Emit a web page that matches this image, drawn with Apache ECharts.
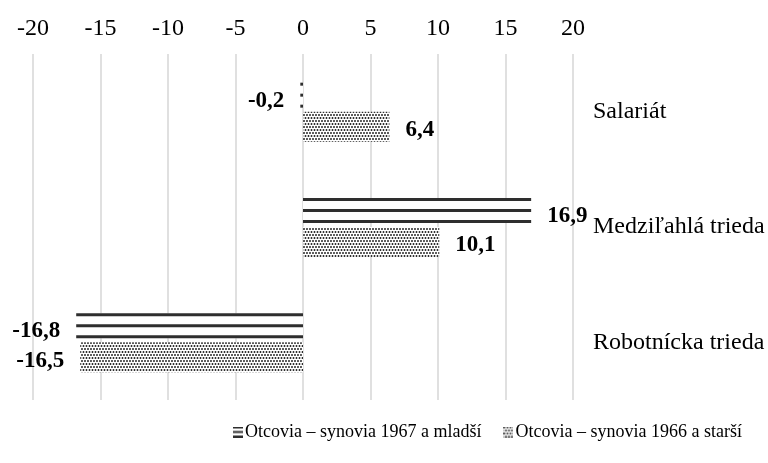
<!DOCTYPE html>
<html>
<head>
<meta charset="utf-8">
<script src="https://cdn.jsdelivr.net/npm/echarts@6/dist/echarts.min.js"></script>
<style>
html,body{margin:0;padding:0;background:#fff;}
#chart{width:768px;height:463px;}
</style>
</head>
<body>
<div id="chart"></div>
<script>
// ---- data ----
const categories = ['Salariát', 'Medziľahlá trieda', 'Robotnícka trieda'];
const seriesNames = ['Otcovia – synovia 1967 a mladší', 'Otcovia – synovia 1966 a starší'];
const youngerValues = [-0.2, 16.9, -16.8];
const olderValues = [6.4, 10.1, -16.5];
const xTicks = { min: -20, max: 20, interval: 5 };

// ---- styles ----
const FONT = "'Liberation Serif', 'Times New Roman', serif";
const LINE_COLOR = '#2e2e2e';

function makeDotCanvas() {
  const c = document.createElement('canvas');
  c.width = 6; c.height = 6;
  const g = c.getContext('2d');
  g.fillStyle = '#ffffff';
  g.fillRect(0, 0, 6, 6);
  g.fillStyle = '#1a1a1a';
  const pts = [[1, 1], [4, 1], [2.5, 4], [5.5, 4], [-0.5, 4]];
  pts.forEach(p => { g.beginPath(); g.arc(p[0], p[1], 0.95, 0, Math.PI * 2); g.fill(); });
  return c;
}
const dotCanvas = makeDotCanvas();

function makeStripeIcon() {
  const c = document.createElement('canvas');
  c.width = 10; c.height = 11;
  const g = c.getContext('2d');
  g.fillStyle = '#fff'; g.fillRect(0, 0, 10, 11);
  g.fillStyle = LINE_COLOR;
  g.fillRect(0, 0, 10, 2); g.fillRect(0, 4.5, 10, 2); g.fillRect(0, 9, 10, 2);
  return c.toDataURL();
}
function makeDotIcon() {
  const c = document.createElement('canvas');
  c.width = 10; c.height = 11;
  const g = c.getContext('2d');
  const pat = g.createPattern(dotCanvas, 'repeat');
  g.fillStyle = pat; g.fillRect(0, 0, 10, 11);
  return c.toDataURL();
}

function fmt(v) { return String(v).replace('.', ','); }

function labelEl(v, xEnd, yMid) {
  return {
    type: 'text',
    style: {
      text: fmt(v),
      x: v >= 0 ? xEnd + 16 : xEnd - 16,
      y: yMid,
      align: v >= 0 ? 'left' : 'right',
      verticalAlign: 'middle',
      fontFamily: FONT,
      fontWeight: 'bold',
      fontSize: 23,
      fill: '#000'
    },
    z2: 10
  };
}

function renderStripes(params, api) {
  const v = api.value(0), ci = api.value(1);
  const p0 = api.coord([0, ci]);
  const p1 = api.coord([v, ci]);
  const c = p0[1];
  const x0 = Math.min(p0[0], p1[0]);
  const w = Math.abs(p1[0] - p0[0]);
  const top = c - 29;
  const children = [
    { type: 'rect', shape: { x: x0, y: top, width: w, height: 25 }, style: { fill: '#fff' } },
    { type: 'rect', shape: { x: x0, y: top, width: w, height: 3 }, style: { fill: LINE_COLOR } },
    { type: 'rect', shape: { x: x0, y: top + 11, width: w, height: 3 }, style: { fill: LINE_COLOR } },
    { type: 'rect', shape: { x: x0, y: top + 22, width: w, height: 3 }, style: { fill: LINE_COLOR } },
    labelEl(v, p1[0], top + 18)
  ];
  return { type: 'group', children };
}

function renderDots(params, api) {
  const v = api.value(0), ci = api.value(1);
  const p0 = api.coord([0, ci]);
  const p1 = api.coord([v, ci]);
  const c = p0[1];
  const x0 = Math.min(p0[0], p1[0]);
  const w = Math.abs(p1[0] - p0[0]);
  return {
    type: 'group',
    children: [
      { type: 'rect', shape: { x: x0, y: c, width: w, height: 30 },
        style: { fill: { image: dotCanvas, repeat: 'repeat' } } },
      labelEl(v, p1[0], c + 18.5)
    ]
  };
}

const chart = echarts.init(document.getElementById('chart'), null, { renderer: 'canvas' });
chart.setOption({
  animation: false,
  backgroundColor: '#fff',
  grid: { left: 33, right: 195, top: 54, bottom: 63, containLabel: false },
  xAxis: {
    type: 'value', position: 'top',
    min: xTicks.min, max: xTicks.max, interval: xTicks.interval,
    axisLine: { show: false }, axisTick: { show: false },
    axisLabel: { margin: 13, fontFamily: FONT, fontSize: 24, color: '#000' },
    splitLine: { show: true, lineStyle: { color: '#d6d6d6', width: 1.5 } }
  },
  yAxis: {
    type: 'category', data: categories, inverse: true, position: 'right',
    axisLine: { show: false }, axisTick: { show: false }, splitLine: { show: false },
    axisLabel: { margin: 20, fontFamily: FONT, fontSize: 24, color: '#000', padding: [5, 0, 0, 0] }
  },
  legend: {
    left: 228, top: 418,
    itemWidth: 10, itemHeight: 11, itemGap: 22,
    textStyle: { fontFamily: FONT, fontSize: 18, color: '#000', padding: [0, 0, 0, -3] },
    data: [
      { name: seriesNames[0], icon: 'image://' + makeStripeIcon() },
      { name: seriesNames[1], icon: 'image://' + makeDotIcon() }
    ]
  },
  series: [
    {
      type: 'custom', name: seriesNames[0],
      renderItem: renderStripes,
      encode: { x: 0, y: 1 },
      data: youngerValues.map((v, i) => [v, i])
    },
    {
      type: 'custom', name: seriesNames[1],
      renderItem: renderDots,
      encode: { x: 0, y: 1 },
      data: olderValues.map((v, i) => [v, i])
    }
  ]
});
</script>
</body>
</html>
